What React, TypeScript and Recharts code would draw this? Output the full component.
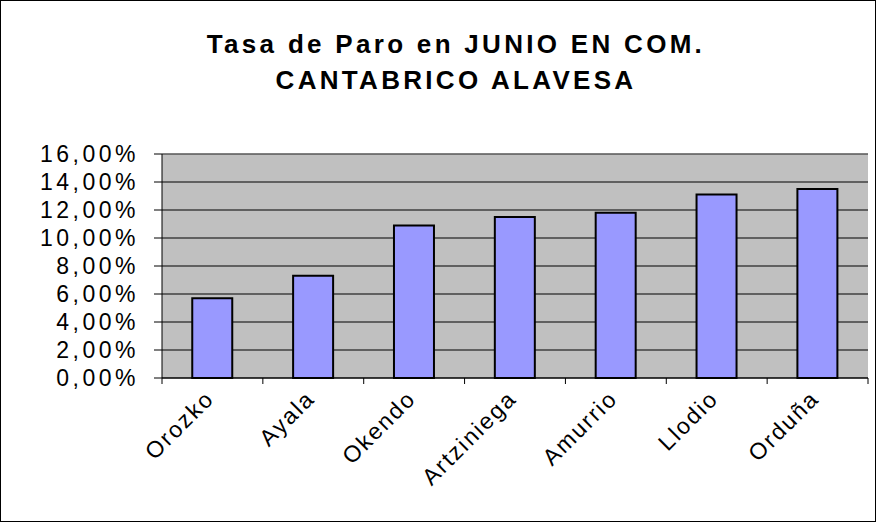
import React from 'react';
import { BarChart, Bar, XAxis, YAxis, CartesianGrid, ReferenceLine } from 'recharts';

const CATEGORIES = ['Orozko', 'Ayala', 'Okendo', 'Artziniega', 'Amurrio', 'Llodio', 'Orduña'];
const RATES = [0.057, 0.073, 0.109, 0.115, 0.118, 0.131, 0.135];
const Y_TICKS = [0, 0.02, 0.04, 0.06, 0.08, 0.1, 0.12, 0.14, 0.16];
const TITLE_LINES = ['Tasa de Paro en JUNIO EN COM.', 'CANTABRICO ALAVESA'];

const data = CATEGORIES.map((name, i) => ({ name, rate: RATES[i] }));

const W = 879;
const H = 525;
const M = { top: 154, right: 11, bottom: 47, left: 0 };
const Y_AXIS_W = 162;
const X_AXIS_H = 100;
const PLOT_W = W - M.left - M.right - Y_AXIS_W;
const BAND = PLOT_W / CATEGORIES.length;
const FONT = '"Liberation Sans", Arial, sans-serif';

const fmtPct = (v: number) => (v * 100).toFixed(2).replace('.', ',') + '%';

const XTick = (props: any) => {
  const { x, y, payload, index } = props;
  const left = x - BAND / 2;
  const ax = x + 3;
  const ay = y + 22;
  return (
    <g>
      <line x1={left} x2={left} y1={y} y2={y + 6} stroke="#000" strokeWidth={1} />
      {index === CATEGORIES.length - 1 && (
        <line x1={x + BAND / 2} x2={x + BAND / 2} y1={y} y2={y + 6} stroke="#000" strokeWidth={1} />
      )}
      <text
        x={ax}
        y={ay}
        transform={`rotate(-45 ${ax} ${ay})`}
        textAnchor="end"
        fontSize={23}
        letterSpacing={2}
        fontFamily={FONT}
        fill="#000"
      >
        {payload.value}
      </text>
    </g>
  );
};

const YTick = (props: any) => {
  const { x, y, payload } = props;
  return (
    <text
      x={x - 15}
      y={y}
      dy="0.36em"
      textAnchor="end"
      fontSize={23}
      letterSpacing={3.5}
      fontFamily={FONT}
      fill="#000"
    >
      {fmtPct(payload.value)}
    </text>
  );
};

export default function App() {
  return (
    <div style={{ position: 'relative', width: W, height: H, background: '#fff' }}>
      <style>{'body{margin:0}'}</style>
      <div
        style={{
          position: 'absolute',
          left: 0,
          top: 0,
          width: 874,
          height: 520,
          border: '1px solid #000',
        }}
      />
      <BarChart
        width={W}
        height={H}
        data={data}
        margin={M}
        barCategoryGap="30%"
        style={{ position: 'absolute', left: 0, top: 0 }}
      >
        <CartesianGrid vertical={false} stroke="#000" fill="#C0C0C0" strokeOpacity={1} />
        <XAxis
          dataKey="name"
          height={X_AXIS_H}
          interval={0}
          tickLine={false}
          tickSize={0}
          tickMargin={0}
          axisLine={{ stroke: '#000', strokeWidth: 1 }}
          tick={<XTick />}
        />
        <YAxis
          width={Y_AXIS_W}
          domain={[0, 0.16]}
          ticks={Y_TICKS}
          interval={0}
          tickSize={8}
          tickMargin={0}
          tickLine={{ stroke: '#000' }}
          axisLine={{ stroke: '#000', strokeWidth: 1 }}
          tick={<YTick />}
        />
        <YAxis
          yAxisId="r"
          orientation="right"
          width={0}
          tick={false}
          tickLine={false}
          axisLine={{ stroke: '#808080', strokeWidth: 1 }}
        />
        <ReferenceLine y={0.16} stroke="#808080" strokeWidth={1} />
        <Bar dataKey="rate" fill="#9999FF" stroke="#000" strokeWidth={2} isAnimationActive={false} />
      </BarChart>
      <svg
        width={W}
        height={H}
        style={{ position: 'absolute', left: 0, top: 0, pointerEvents: 'none' }}
      >
        {TITLE_LINES.map((t, i) => (
          <text
            key={t}
            x={456}
            y={53 + i * 36}
            textAnchor="middle"
            fontSize={26}
            fontWeight="bold"
            letterSpacing={3.3}
            fontFamily={FONT}
            fill="#000"
          >
            {t}
          </text>
        ))}
      </svg>
    </div>
  );
}
